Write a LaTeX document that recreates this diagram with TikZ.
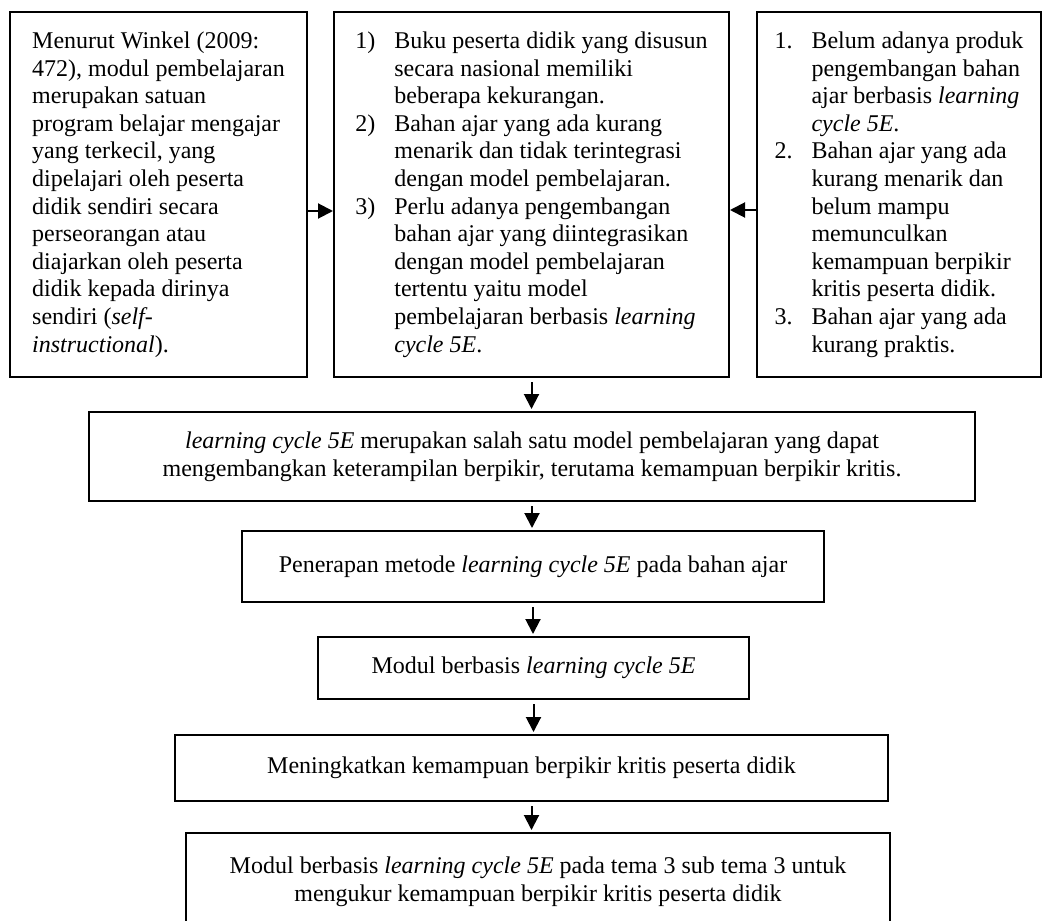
\documentclass[tikz,border=0pt]{standalone}
\usepackage{fontspec}
\setmainfont{Liberation Serif}
\usetikzlibrary{arrows.meta,calc}
\begin{document}
\begin{tikzpicture}[x=0.5pt,y=-0.5pt,
  box/.style={draw, line width=1pt, inner sep=0pt, font=\fontsize{12}{13.8}\selectfont},
  arr/.style={-{Triangle[length=7.5pt,width=7.5pt]}, line width=1pt},
  varr/.style={arr, shorten <=2pt, shorten >=1pt}]
\useasboundingbox (0,0) rectangle (1042,920);

\node[box, align=left, minimum width=148.5pt, minimum height=182.5pt] (b1) at (158.5,194.5) {%
Menurut Winkel (2009:\\
472), modul pembelajaran\\
merupakan satuan\\
program belajar mengajar\\
yang terkecil, yang\\
dipelajari oleh peserta\\
didik sendiri secara\\
perseorangan atau\\
diajarkan oleh peserta\\
didik kepada dirinya\\
sendiri (\textit{self-}\\
\textit{instructional}).};

\node[box, align=left, minimum width=197.5pt, minimum height=182.5pt] (b2) at (531.5,194.5) {%
\makebox[19.5pt][l]{1)}Buku peserta didik yang disusun\\
\hspace*{19.5pt}secara nasional memiliki\\
\hspace*{19.5pt}beberapa kekurangan.\\
\makebox[19.5pt][l]{2)}Bahan ajar yang ada kurang\\
\hspace*{19.5pt}menarik dan tidak terintegrasi\\
\hspace*{19.5pt}dengan model pembelajaran.\\
\makebox[19.5pt][l]{3)}Perlu adanya pengembangan\\
\hspace*{19.5pt}bahan ajar yang diintegrasikan\\
\hspace*{19.5pt}dengan model pembelajaran\\
\hspace*{19.5pt}tertentu yaitu model\\
\hspace*{19.5pt}pembelajaran berbasis \textit{learning}\\
\hspace*{19.5pt}\textit{cycle 5E}.};

\node[box, align=left, minimum width=142pt, minimum height=182.5pt] (b3) at (899,194.5) {%
\makebox[18.5pt][l]{1.}Belum adanya produk\\
\hspace*{18.5pt}pengembangan bahan\\
\hspace*{18.5pt}ajar berbasis \textit{learning}\\
\hspace*{18.5pt}\textit{cycle 5E}.\\
\makebox[18.5pt][l]{2.}Bahan ajar yang ada\\
\hspace*{18.5pt}kurang menarik dan\\
\hspace*{18.5pt}belum mampu\\
\hspace*{18.5pt}memunculkan\\
\hspace*{18.5pt}kemampuan berpikir\\
\hspace*{18.5pt}kritis peserta didik.\\
\makebox[18.5pt][l]{3.}Bahan ajar yang ada\\
\hspace*{18.5pt}kurang praktis.};

\node[box, align=center, minimum width=443pt, minimum height=44.5pt] (b4) at (532,456.5) {%
\textit{learning cycle 5E} merupakan salah satu model pembelajaran yang dapat\\
mengembangkan keterampilan berpikir, terutama kemampuan berpikir kritis.};

\node[box, align=center, minimum width=291pt, minimum height=35.5pt] (b5) at (533,566.5) {%
Penerapan metode \textit{learning cycle 5E} pada bahan ajar};

\node[box, align=center, minimum width=215.5pt, minimum height=31pt] (b6) at (533.5,668) {%
Modul berbasis \textit{learning cycle 5E}};

\node[box, align=center, minimum width=356.5pt, minimum height=33pt] (b7) at (531.5,768) {%
Meningkatkan kemampuan berpikir kritis peserta didik};

\node[box, align=center, minimum width=352pt, minimum height=49pt] (b8) at (538,882) {%
Modul berbasis \textit{learning cycle 5E} pada tema 3 sub tema 3 untuk\\
mengukur kemampuan berpikir kritis peserta didik};

\draw[arr] ([yshift=-8.25pt]b1.east) -- ([yshift=-8.25pt]b2.west);
\draw[arr] ([yshift=-7.75pt]b3.west) -- ([yshift=-7.75pt]b2.east);
\draw[varr] (b2.south) -- (b2.south |- b4.north);
\draw[varr] (b4.south) -- (b4.south |- b5.north);
\draw[varr] (b5.south) -- (b5.south |- b6.north);
\draw[varr] (b6.south) -- (b6.south |- b7.north);
\draw[varr] (b7.south) -- (b7.south |- b8.north);
\end{tikzpicture}
\end{document}
